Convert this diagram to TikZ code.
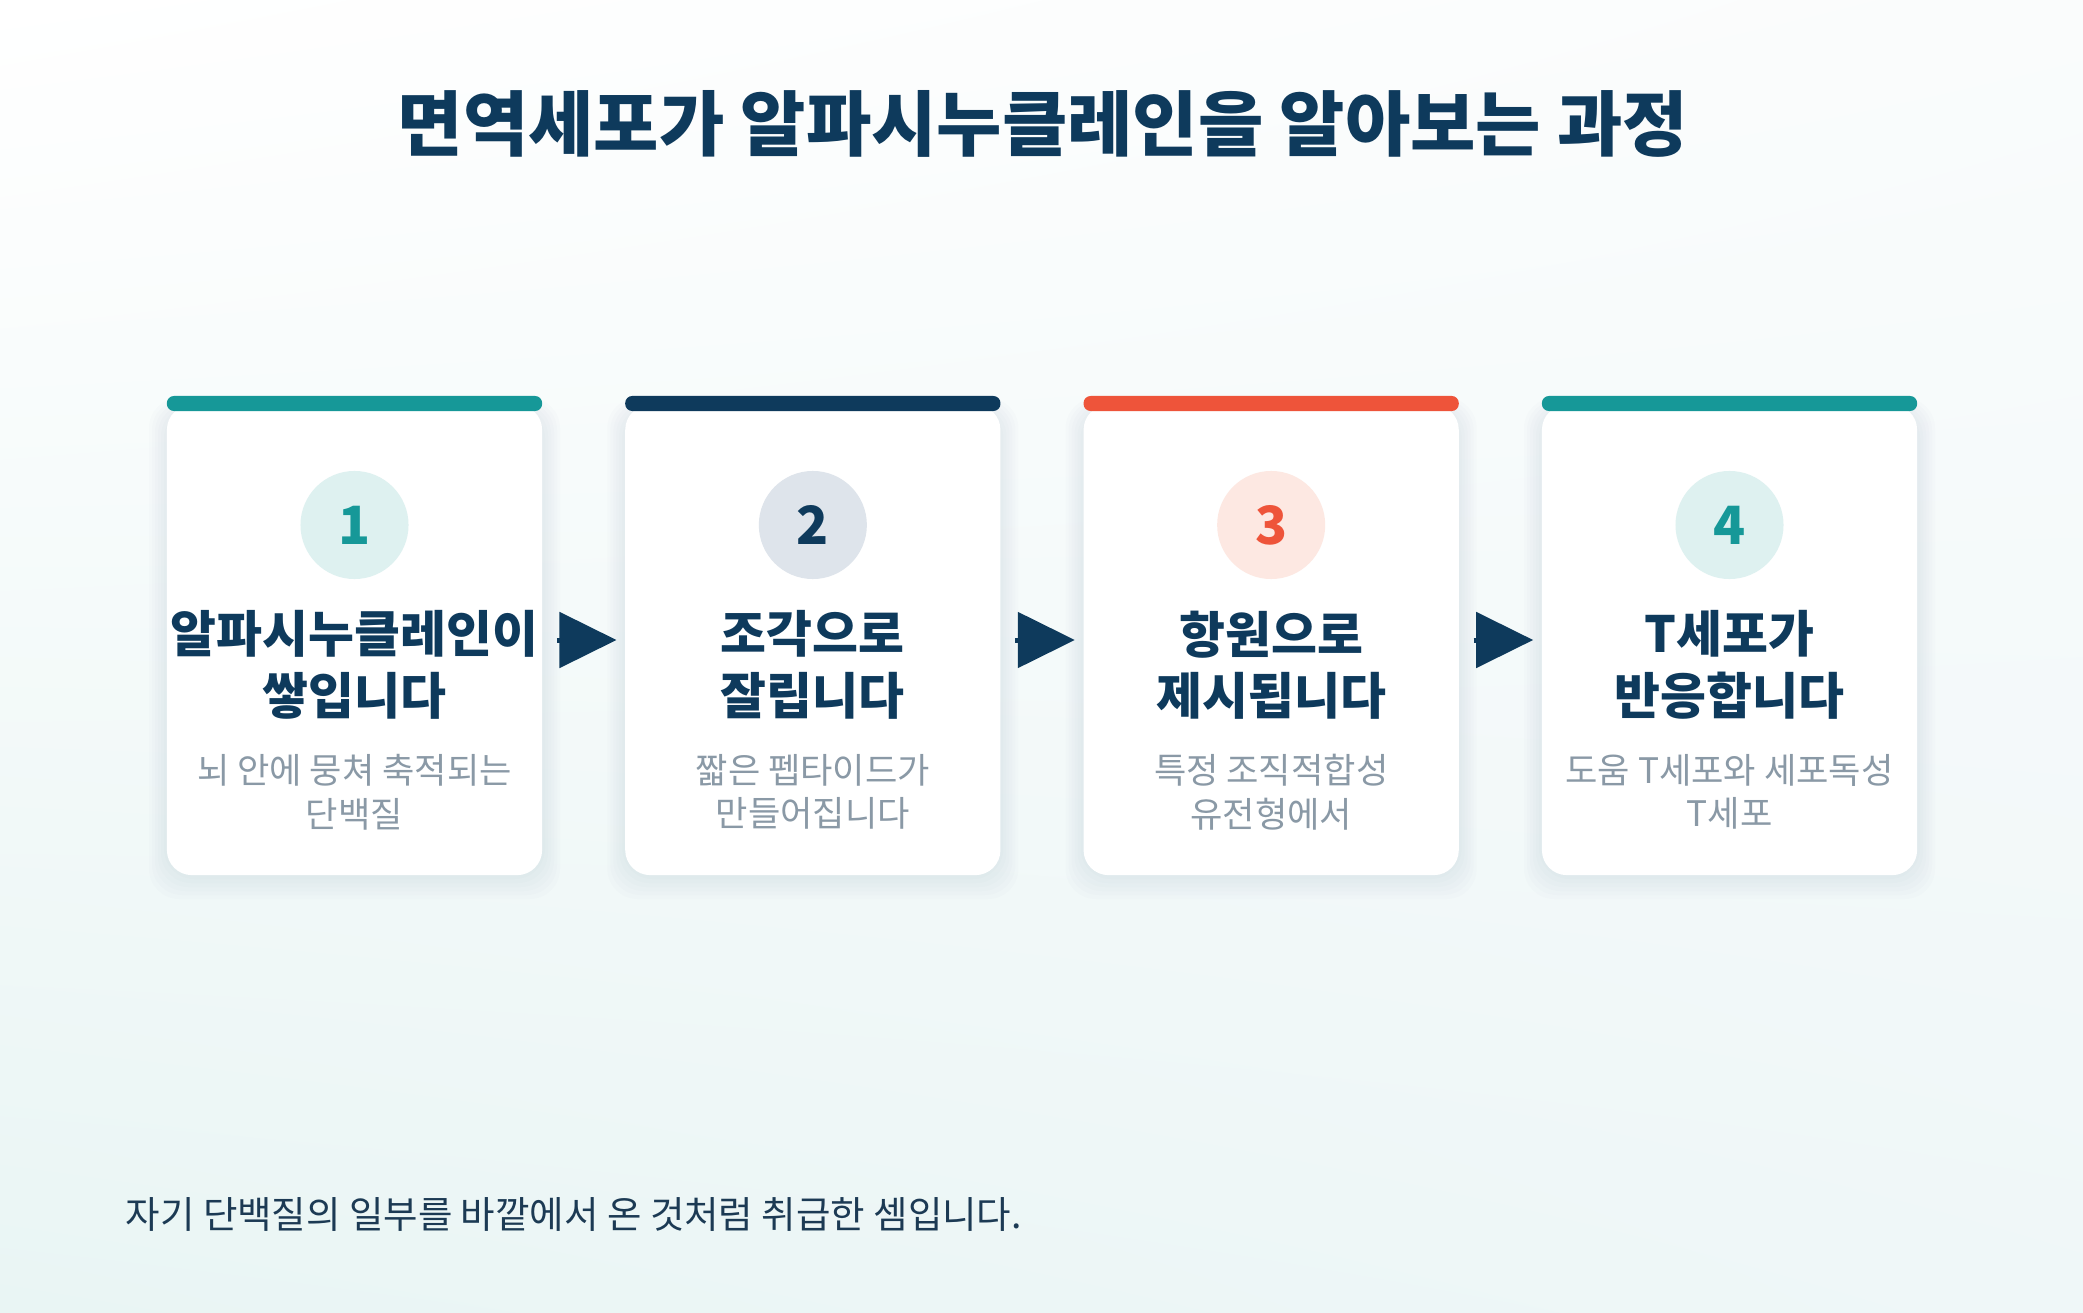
\documentclass[tikz,border=0pt]{standalone}
\usepackage{fontspec}
\setmainfont{Noto Sans CJK KR}
\usetikzlibrary{arrows.meta,shadings}

\begin{document}
\begin{tikzpicture}[x=0.01cm,y=-0.01cm,
  card/.style={fill=white,rounded corners=0.25cm,minimum width=3.75cm,minimum height=4.7cm,inner sep=0pt},
  topbar/.style={rounded corners=0.07cm,minimum width=3.75cm,minimum height=0.15cm,inner sep=0pt},
  badge/.style={circle,minimum size=1.08cm,inner sep=0pt,font=\bfseries\fontsize{15}{15}\selectfont},
  headtext/.style={align=center,text=navy,inner sep=0pt,font=\bfseries\fontsize{14.2}{17.5}\selectfont},
  desctext/.style={align=center,text=descgray,inner sep=0pt,font=\fontsize{10}{12.4}\selectfont},
  flow/.style={-{Triangle[length=0.57cm,width=0.55cm]},line width=0.05cm,draw=navy,shorten <=0.14cm,shorten >=0.08cm}]
\definecolor{navy}{RGB}{14,58,92}
\definecolor{teal}{RGB}{22,152,152}
\definecolor{coral}{RGB}{238,84,58}
\definecolor{tealsoft}{RGB}{222,241,240}
\definecolor{navysoft}{RGB}{222,228,235}
\definecolor{coralsoft}{RGB}{253,232,226}
\definecolor{descgray}{RGB}{138,153,166}
\definecolor{notecolor}{RGB}{28,58,84}
\definecolor{shadowgray}{RGB}{120,140,160}
\definecolor{bgUL}{RGB}{255,255,255}
\definecolor{bgUR}{RGB}{250,252,252}
\definecolor{bgLL}{RGB}{233,245,244}
\definecolor{bgLR}{RGB}{239,247,248}
\useasboundingbox (0,0) rectangle (2083,1313);
\shade[upper left=bgUL,upper right=bgUR,lower left=bgLL,lower right=bgLR] (0,0) rectangle (2083,1313);
% title
\node[text=navy,font=\bfseries\fontsize{20.2}{24}\selectfont] (title) at (1043,124) {면역세포가 알파시누클레인을 알아보는 과정};
% the four steps
\foreach \i/\barc/\softc/\head/\desc in {
  1/teal/tealsoft/{알파시누클레인이\\쌓입니다}/{뇌 안에 뭉쳐 축적되는\\단백질},
  2/navy/navysoft/{조각으로\\잘립니다}/{짧은 펩타이드가\\만들어집니다},
  3/coral/coralsoft/{항원으로\\제시됩니다}/{특정 조직적합성\\유전형에서},
  4/teal/tealsoft/{T세포가\\반응합니다}/{도움 T세포와 세포독성\\T세포}}
{
  \pgfmathsetmacro{\x}{354.5+458.33*(\i-1)}
  \foreach \k in {1,...,6}
    \fill[shadowgray,opacity=0.02,rounded corners=0.3cm] (\x-187.5-\k*3,410-\k*2) rectangle (\x+187.5+\k*3,875+\k*4);
  \node[card] (card\i) at (\x,640) {};
  \node[topbar,fill=\barc] (bar\i) at (\x,403.5) {};
  \node[badge,fill=\softc,text=\barc] (num\i) at (\x,525) {\i};
  \node[headtext] (head\i) at (\x,665) {\head};
  \node[desctext] (desc\i) at (\x,792) {\desc};
}
\foreach \a/\b in {1/2,2/3,3/4}
  \draw[flow] (card\a) -- (card\b);
% closing remark
\node[anchor=west,inner sep=0pt,text=notecolor,font=\fontsize{10.65}{12}\selectfont] (note) at (125,1214) {자기 단백질의 일부를 바깥에서 온 것처럼 취급한 셈입니다.};
\end{tikzpicture}
\end{document}
